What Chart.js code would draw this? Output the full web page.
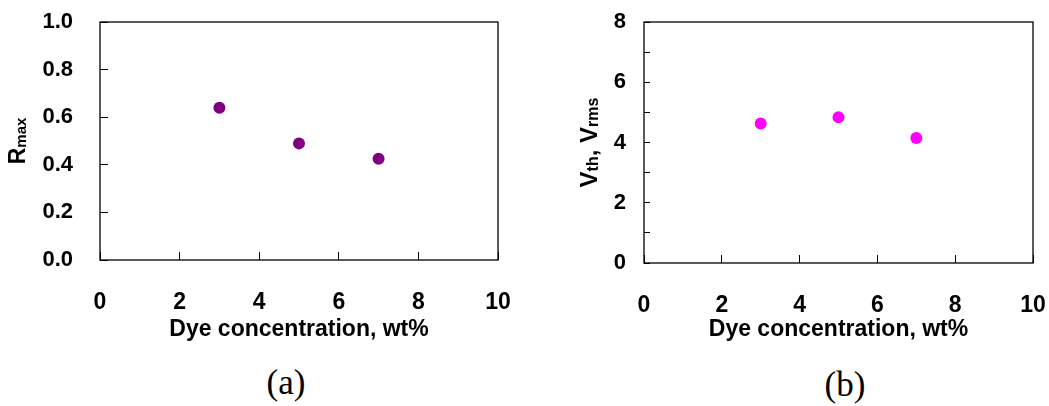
<!DOCTYPE html>
<html>
<head>
<meta charset="utf-8">
<script src="https://cdn.jsdelivr.net/npm/chart.js@4.4.1/dist/chart.umd.min.js"></script>
<style>
  body { margin: 0; background: #fff; }
  #page { position: relative; width: 1049px; height: 406px; overflow: hidden; }
  .panel { position: absolute; top: 0; }
  .tag {
    position: absolute; width: 80px; text-align: center;
    font-family: "Liberation Serif", "Times New Roman", serif;
    font-size: 35px; line-height: 40px; color: #000;
  }
</style>
</head>
<body>
<div id="page">
  <div class="panel" style="left:0;width:525px;height:350px"><canvas id="chartA" width="525" height="350"></canvas></div>
  <div class="panel" style="left:540px;width:509px;height:350px"><canvas id="chartB" width="509" height="350"></canvas></div>
  <div class="tag" style="left:246px;top:363px">(a)</div>
  <div class="tag" style="left:805px;top:365px">(b)</div>
</div>
<script>
// dye concentration (wt%) of the three samples
const concentration = [3, 5, 7];
// maximum reflectance
const rMax = [0.64, 0.49, 0.425];
// threshold voltage
const vTh = [4.63, 4.84, 4.15];

const xRange = [0, 10];
const xStep = 2;
const rRange = [0, 1];
const rStep = 0.2;
const vRange = [0, 8];
const vStep = 1;

const xTitle = 'Dye concentration, wt%';
const rTitle = [{ text: 'R' }, { text: 'max', sub: true }];
const vTitle = [{ text: 'V' }, { text: 'th', sub: true }, { text: ', V' }, { text: 'rms', sub: true }];

const FONT = '"Liberation Sans", Arial, sans-serif';

// box around the plot area
const framePlugin = {
  id: 'frame',
  afterDraw(chart) {
    const { ctx, chartArea: a } = chart;
    ctx.save();
    ctx.strokeStyle = '#000';
    ctx.lineWidth = 1.3;
    ctx.strokeRect(a.left, a.top, a.right - a.left, a.bottom - a.top);
    ctx.restore();
  }
};

// rotated y title with subscripts (axis titles can't do those)
const yTitlePlugin = {
  id: 'yTitle',
  afterDraw(chart, args, opts) {
    if (!opts.parts) return;
    const { ctx, chartArea: a } = chart;
    const fontFor = p => `bold ${p.sub ? opts.subSize : opts.size}px ${FONT}`;
    ctx.save();
    ctx.translate(a.left - opts.offset, (a.top + a.bottom) / 2);
    ctx.rotate(-Math.PI / 2);
    ctx.fillStyle = '#000';
    ctx.textBaseline = 'alphabetic';
    let total = 0;
    opts.parts.forEach(p => { ctx.font = fontFor(p); total += ctx.measureText(p.text).width; });
    let x = -total / 2;
    opts.parts.forEach(p => {
      ctx.font = fontFor(p);
      ctx.fillText(p.text, x, p.sub ? opts.subShift : 0);
      x += ctx.measureText(p.text).width;
    });
    ctx.restore();
  }
};

function renderPanel(canvasId, cfg) {
  const canvas = document.getElementById(canvasId);
  if (!canvas) {
    console.error(`Canvas with id ${canvasId} not found`);
    return;
  }

  const data = {
    datasets: [{
      data: concentration.map((c, i) => ({ x: c, y: cfg.values[i] })),
      backgroundColor: cfg.color,
      borderWidth: 0,
      pointRadius: 6,
      showLine: false
    }]
  };

  const config = {
    type: 'scatter',
    data: data,
    options: {
      responsive: false,
      animation: false,
      layout: { padding: { top: 22, right: cfg.padRight, left: 0, bottom: 0 } },
      plugins: {
        legend: { display: false },
        tooltip: { enabled: false },
        yTitle: { parts: cfg.yTitle, offset: cfg.yTitleOffset, size: cfg.yTitleSize, subSize: cfg.ySubSize, subShift: 1 }
      },
      scales: {
        x: {
          type: 'linear',
          min: xRange[0],
          max: xRange[1],
          // fixed axis band; label padding shouldn't push the plot area in
          afterFit: s => { s.height = cfg.xHeight; s.paddingLeft = 0; s.paddingRight = 0; },
          border: { display: false },
          grid: { drawOnChartArea: false, drawTicks: true, tickLength: -8, color: '#000', lineWidth: 1 },
          ticks: {
            stepSize: xStep,
            padding: 37,
            maxRotation: 0,
            autoSkip: false,
            color: '#000',
            font: { family: FONT, size: 23, weight: 'bold' }
          },
          title: {
            display: true,
            text: xTitle,
            color: '#000',
            font: { family: FONT, size: 23, weight: 'bold' },
            padding: { top: 0, bottom: 7 }
          }
        },
        y: {
          type: 'linear',
          min: cfg.yRange[0],
          max: cfg.yRange[1],
          afterFit: s => { s.width = cfg.yWidth; s.paddingTop = 0; s.paddingBottom = 0; },
          border: { display: false },
          grid: { drawOnChartArea: false, drawTicks: true, tickLength: -cfg.yTick, color: '#000', lineWidth: 1 },
          ticks: {
            stepSize: cfg.yStep,
            padding: cfg.yPad,
            autoSkip: false,
            color: '#000',
            font: { family: FONT, size: 22, weight: 'bold' },
            callback: cfg.yLabel
          }
        }
      }
    },
    plugins: [framePlugin, yTitlePlugin]
  };

  return new Chart(canvas, config);
}

renderPanel('chartA', {
  values: rMax,
  color: '#800080',
  yRange: rRange,
  yStep: rStep,
  yLabel: v => v.toFixed(1),
  yWidth: 100,
  yTick: 8,
  yPad: 35,
  padRight: 27,
  xHeight: 90,
  yTitle: rTitle,
  yTitleOffset: 75,
  yTitleSize: 23,
  ySubSize: 15
});

renderPanel('chartB', {
  values: vTh,
  color: '#FF00FF',
  yRange: vRange,
  yStep: vStep,
  yLabel: v => (v % 2 === 0 ? String(v) : ''),
  yWidth: 104,
  yTick: 6,
  yPad: 24,
  padRight: 16,
  xHeight: 87,
  yTitle: vTitle,
  yTitleOffset: 47,
  yTitleSize: 24,
  ySubSize: 16
});
</script>
</body>
</html>
